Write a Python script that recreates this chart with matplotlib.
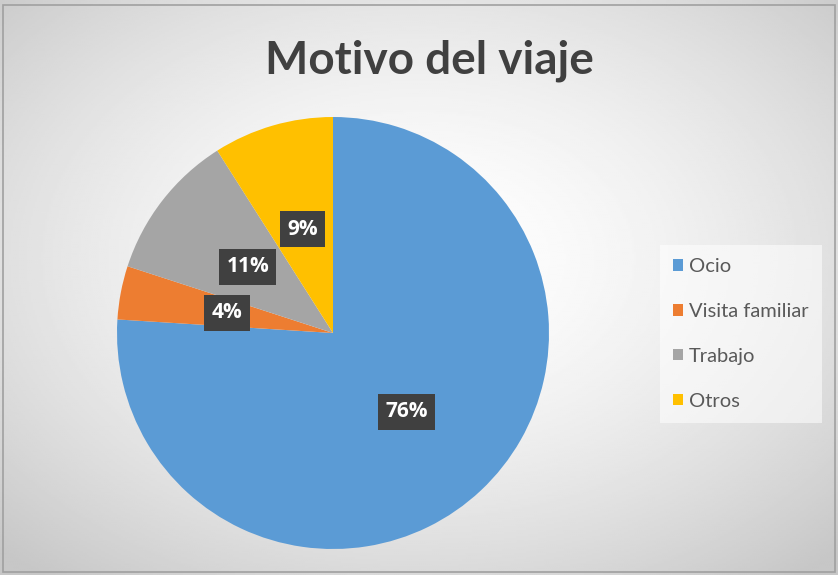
import numpy as np
import matplotlib.pyplot as plt
from matplotlib.patches import Patch, Rectangle

categories = ['Ocio', 'Visita familiar', 'Trabajo', 'Otros']
values = [76, 4, 11, 9]
colors = ['#5B9BD5', '#ED7D31', '#A5A5A5', '#FFC000']
title = 'Motivo del viaje'

W, H = 838, 575
fig = plt.figure(figsize=(W / 100, H / 100), dpi=100)

# radial gradient background
bg = fig.add_axes([0, 0, 1, 1])
yy, xx = np.mgrid[0:1:300j, 0:1:420j]
d = np.sqrt(((xx - 0.5) / 0.75) ** 2 + ((yy - 0.45) / 0.75) ** 2)
shade = 1.0 - 0.22 * np.clip(d / 0.95, 0, 1) ** 1.6
bg.imshow(shade, cmap='gray', vmin=0, vmax=1, extent=[0, 1, 0, 1], aspect='auto')
bg.add_patch(Rectangle((0.004, 0.006), 0.992, 0.985, fill=False,
                       edgecolor='#a0a0a0', lw=1.2, transform=bg.transAxes))
bg.set_axis_off()

# pie
cx, cy, r = 333, 333, 216
ax = fig.add_axes([(cx - r) / W, (H - cy - r) / H, 2 * r / W, 2 * r / H])
wedges, texts, autotexts = ax.pie(values, colors=colors, startangle=90,
                                  counterclock=False, autopct='%1.0f%%',
                                  pctdistance=0.5, radius=1,
                                  wedgeprops=dict(linewidth=0))
for t in autotexts:
    t.set_color('white')
    t.set_fontsize(15)
    t.set_fontweight('bold')
    t.set_family('Open Sans')
    t.set_bbox(dict(boxstyle='square,pad=0.35', facecolor='#404040',
                    edgecolor='none'))
ax.set_xlim(-1, 1)
ax.set_ylim(-1, 1)
ax.set_aspect('equal')
ax.set_axis_off()

fig.text(429 / W, 1 - 73 / H, title, ha='center', va='baseline', fontsize=33,
         fontweight='bold', color='#404040', family='Lato')

handles = [Patch(facecolor=c, edgecolor='none') for c in colors]
leg = fig.legend(handles, categories, loc='center left',
                 bbox_to_anchor=(660 / W, 1 - 334 / H), frameon=True,
                 fancybox=False, facecolor='white', edgecolor='none',
                 framealpha=0.55, labelspacing=1.38,
                 handlelength=0.5, handleheight=0.5, handletextpad=0.3,
                 borderpad=0.65, borderaxespad=0,
                 prop={'family': 'Lato', 'size': 14.5})
for t in leg.get_texts():
    t.set_color('#595959')

fig.savefig('out.png', dpi=100)
